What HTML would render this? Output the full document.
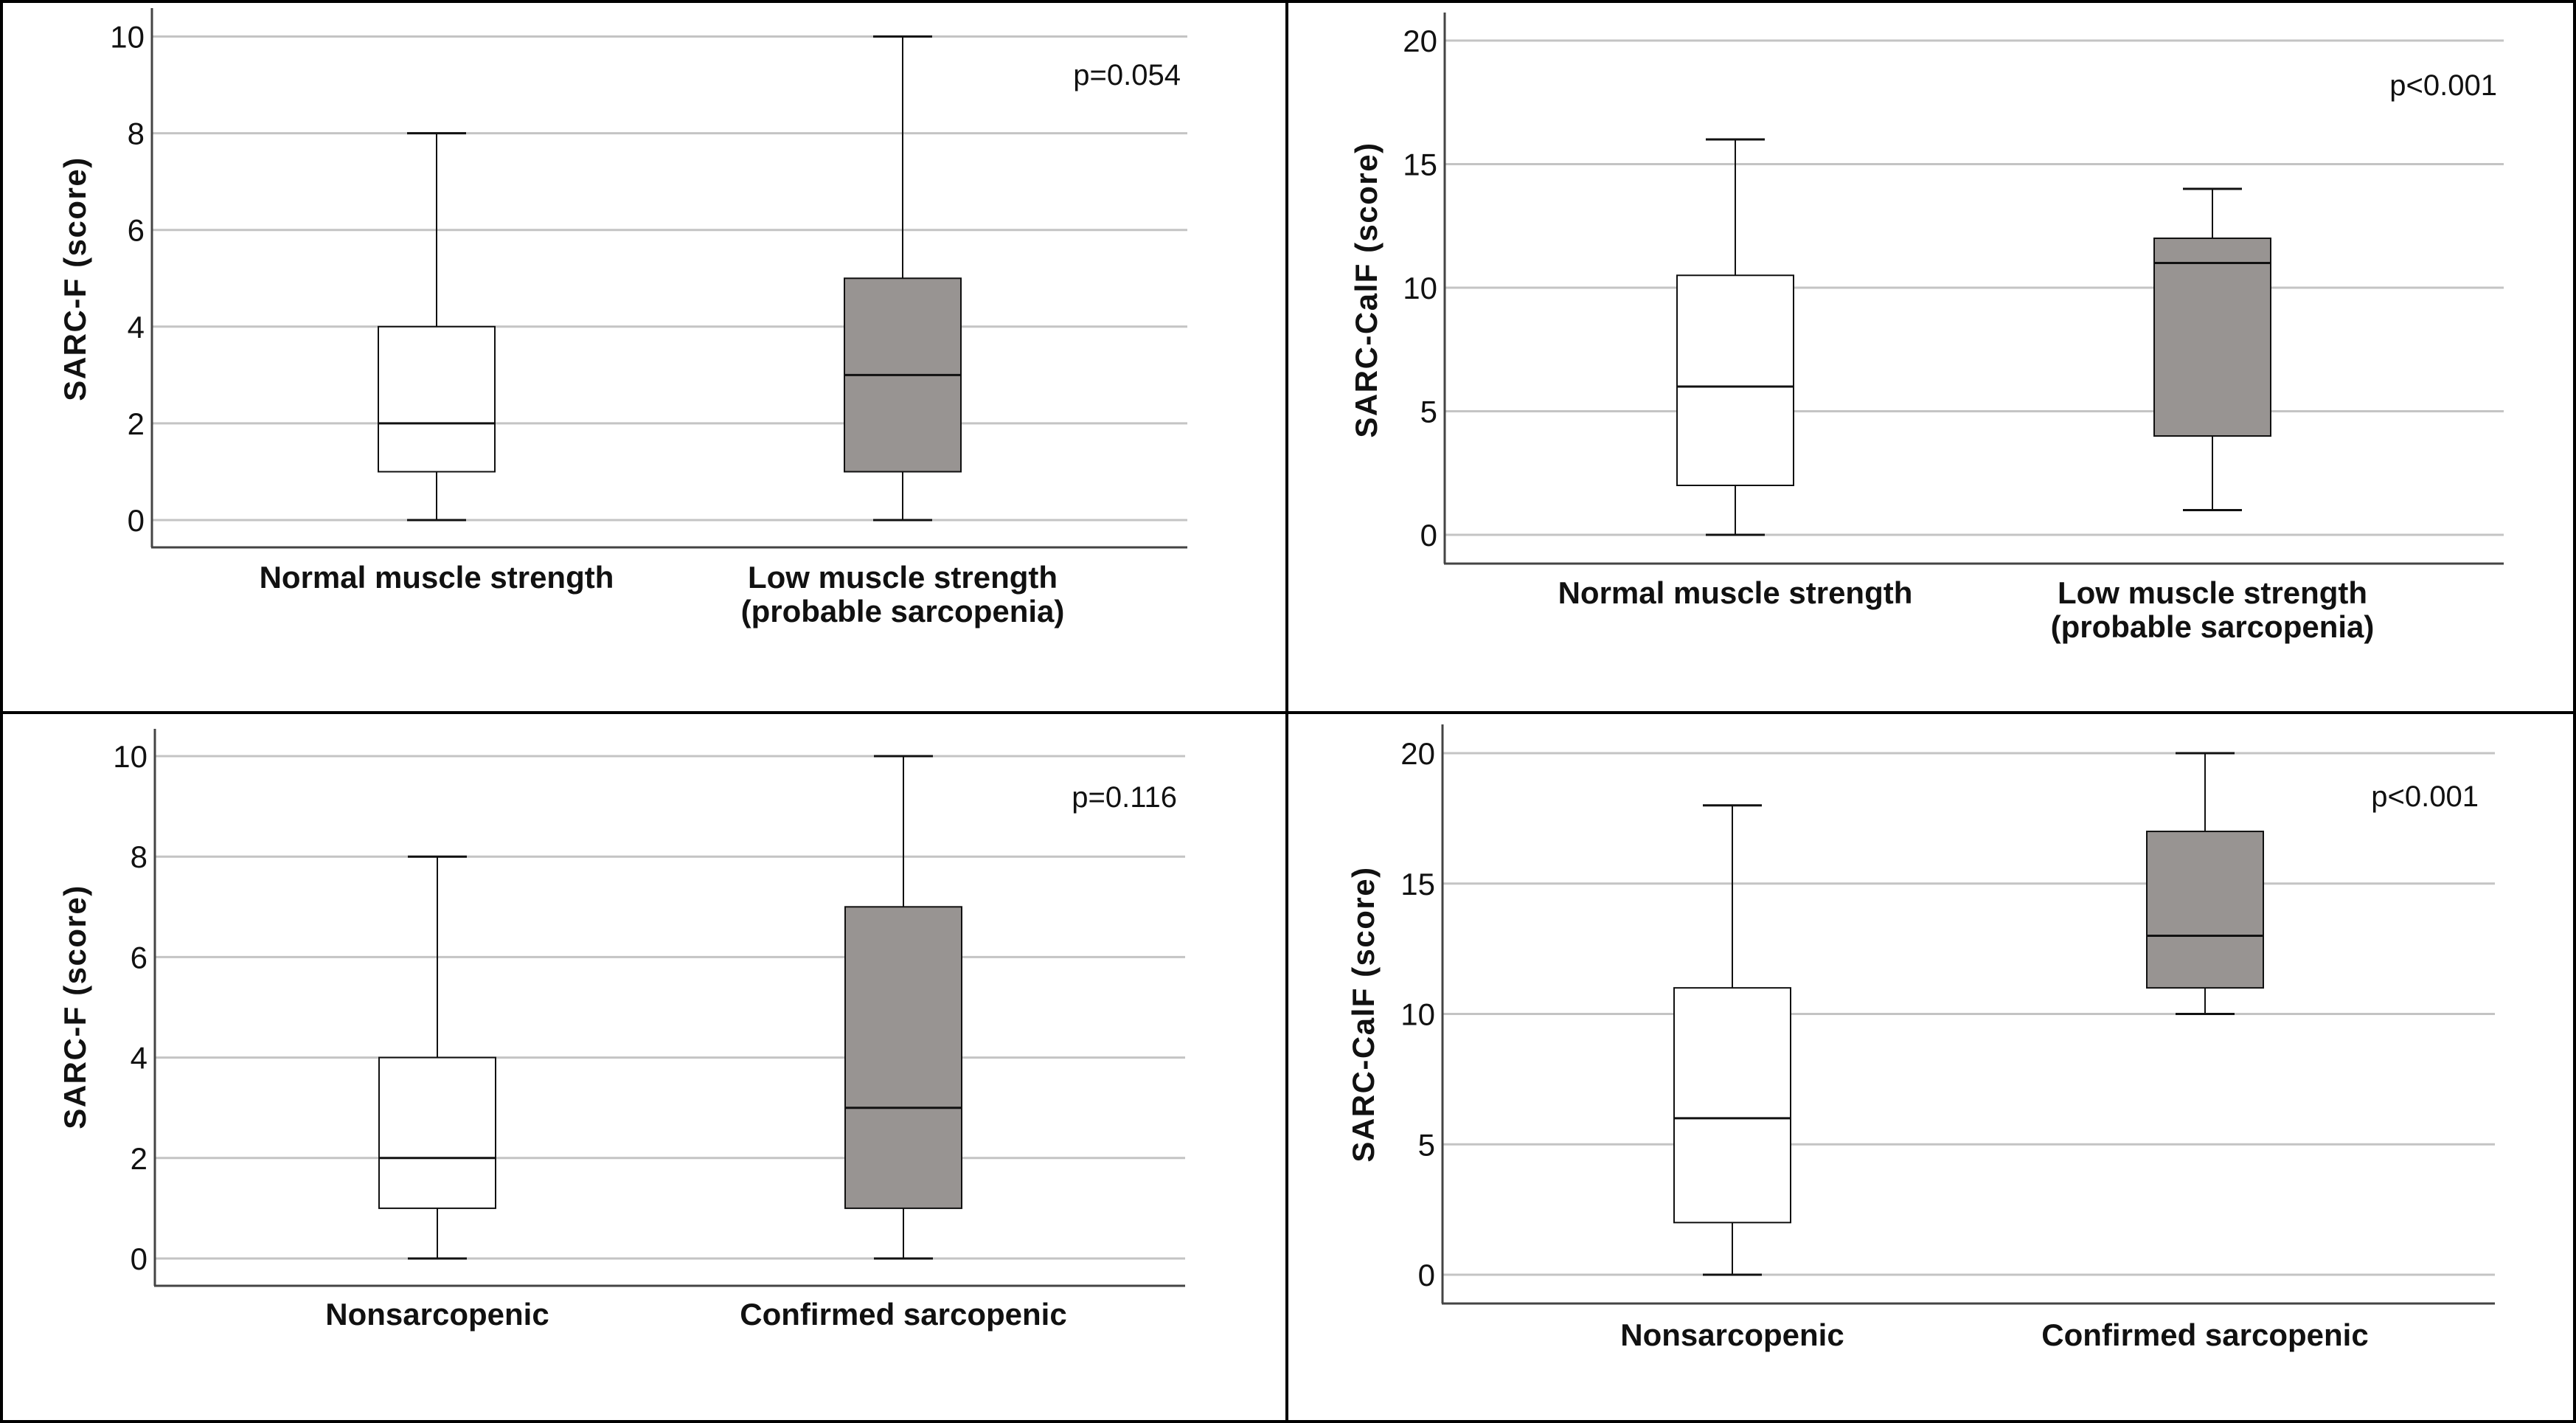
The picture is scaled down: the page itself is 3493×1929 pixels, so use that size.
<!DOCTYPE html>
<html><head><meta charset="utf-8"><style>
html,body{margin:0;padding:0;background:#fff}
svg{display:block}
text{font-family:"Liberation Sans",Arial,sans-serif;fill:#111}
</style></head><body>
<svg id="fig" width="3493" height="1929" viewBox="0 0 3493 1929" xmlns="http://www.w3.org/2000/svg">
<rect x="2" y="2" width="3489" height="1925" fill="#fff" stroke="#000" stroke-width="4"/>
<line x1="1745" y1="0" x2="1745" y2="1929" stroke="#000" stroke-width="4"/>
<line x1="0" y1="966" x2="3493" y2="966" stroke="#000" stroke-width="4"/>
</svg>
<script>
// Panel A: SARC-F by muscle strength
const catsA = [["Normal muscle strength"],["Low muscle strength","(probable sarcopenia)"]];
const minA = [0,0], q1A = [1,1], medA = [2,3], q3A = [4,5], maxA = [8,10];
const ticksA = [0,2,4,6,8,10];
// Panel B: SARC-CalF by muscle strength
const catsB = [["Normal muscle strength"],["Low muscle strength","(probable sarcopenia)"]];
const minB = [0,1], q1B = [2,4], medB = [6,11], q3B = [10.5,12], maxB = [16,14];
const ticksB = [0,5,10,15,20];
// Panel C: SARC-F by sarcopenia
const catsC = [["Nonsarcopenic"],["Confirmed sarcopenic"]];
const minC = [0,0], q1C = [1,1], medC = [2,3], q3C = [4,7], maxC = [8,10];
const ticksC = [0,2,4,6,8,10];
// Panel D: SARC-CalF by sarcopenia
const catsD = [["Nonsarcopenic"],["Confirmed sarcopenic"]];
const minD = [0,10], q1D = [2,11], medD = [6,13], q3D = [11,17], maxD = [18,20];
const ticksD = [0,5,10,15,20];
const pvals = ["p=0.054","p<0.001","p=0.116","p<0.001"];

const NS="http://www.w3.org/2000/svg";
const svg=document.getElementById('fig');
function mk(tag,attrs,parent){const e=document.createElementNS(NS,tag);for(const k in attrs)e.setAttribute(k,attrs[k]);(parent||svg).appendChild(e);return e;}

function panel(id,L,R,yTop,yZero,base,axTop,yMax,ticks,cats,mn,q1,md,q3,mx,centers,ytitle,pv,pX,pY,titleX,titleY,labY){
  const g=mk('g',{});
  
  
  const y=v=>yZero+(yTop-yZero)*v/yMax;
  ticks.forEach(t=>{
    const gl=mk('line',{x1:L,x2:R,y1:y(t),y2:y(t),stroke:'#c4c4c4','stroke-width':3},g);
    
    
    const tl=mk('text',{x:L-10,y:y(t)+15,'text-anchor':'end','font-size':42},g);
    
    
    tl.textContent=t;
  });
  const ax=mk('line',{x1:L,x2:L,y1:axTop,y2:base,stroke:'#444','stroke-width':3},g);
  
  
  const bx=mk('line',{x1:L-1,x2:R,y1:base,y2:base,stroke:'#444','stroke-width':3},g);
  
  
  const bw=158,cw=80;
  cats.forEach((c,i)=>{
    const cx=centers[i];
    const w=mk('line',{x1:cx,x2:cx,y1:y(mx[i]),y2:y(mn[i]),stroke:'#111','stroke-width':2},g);
    
    
    [mn[i],mx[i]].forEach((v,k)=>{
      const cap=mk('line',{x1:cx-cw/2,x2:cx+cw/2,y1:y(v),y2:y(v),stroke:'#111','stroke-width':3},g);
      
      
    });
    const b=mk('rect',{x:cx-bw/2,y:y(q3[i]),width:bw,height:y(q1[i])-y(q3[i]),fill:i?'#989492':'#fff',stroke:'#111','stroke-width':2},g);
    
    
    const m=mk('line',{x1:cx-bw/2,x2:cx+bw/2,y1:y(md[i]),y2:y(md[i]),stroke:'#111','stroke-width':3},g);
    
    
    c.forEach((line,j)=>{
      const t=mk('text',{x:cx,y:labY+j*46,'text-anchor':'middle','font-size':42,'font-weight':'bold'},g);
      
      
      t.textContent=line;
    });
  });
  const tt=mk('text',{x:0,y:0,'text-anchor':'middle','font-size':42,'font-weight':'bold','letter-spacing':1.5,transform:`translate(${titleX},${titleY}) rotate(-90)`},g);
  
  
  tt.textContent=ytitle;
  const p=mk('text',{x:pX,y:pY,'text-anchor':'end','font-size':40},g);
  
  
  p.textContent=pv;
}
panel('panel-a-sarcf-strength',206,1610,49.5,705,742,11,10,ticksA,catsA,minA,q1A,medA,q3A,maxA,[592,1224],'SARC-F (score)',pvals[0],1601,115,116,378,797);
panel('panel-b-sarccalf-strength',1959,3395,55,725,764,17,20,ticksB,catsB,minB,q1B,medB,q3B,maxB,[2353,3000],'SARC-CalF (score)',pvals[1],3386,129,1867,393,818);
panel('panel-c-sarcf-sarcopenia',210,1607,1025,1706,1743,988,10,ticksC,catsC,minC,q1C,medC,q3C,maxC,[593,1225],'SARC-F (score)',pvals[2],1596,1094,116,1365,1796);
panel('panel-d-sarccalf-sarcopenia',1956,3383,1021,1728,1767,982,20,ticksD,catsD,minD,q1D,medD,q3D,maxD,[2349,2990],'SARC-CalF (score)',pvals[3],3361,1093,1863,1375,1824);
</script>
</body></html>
